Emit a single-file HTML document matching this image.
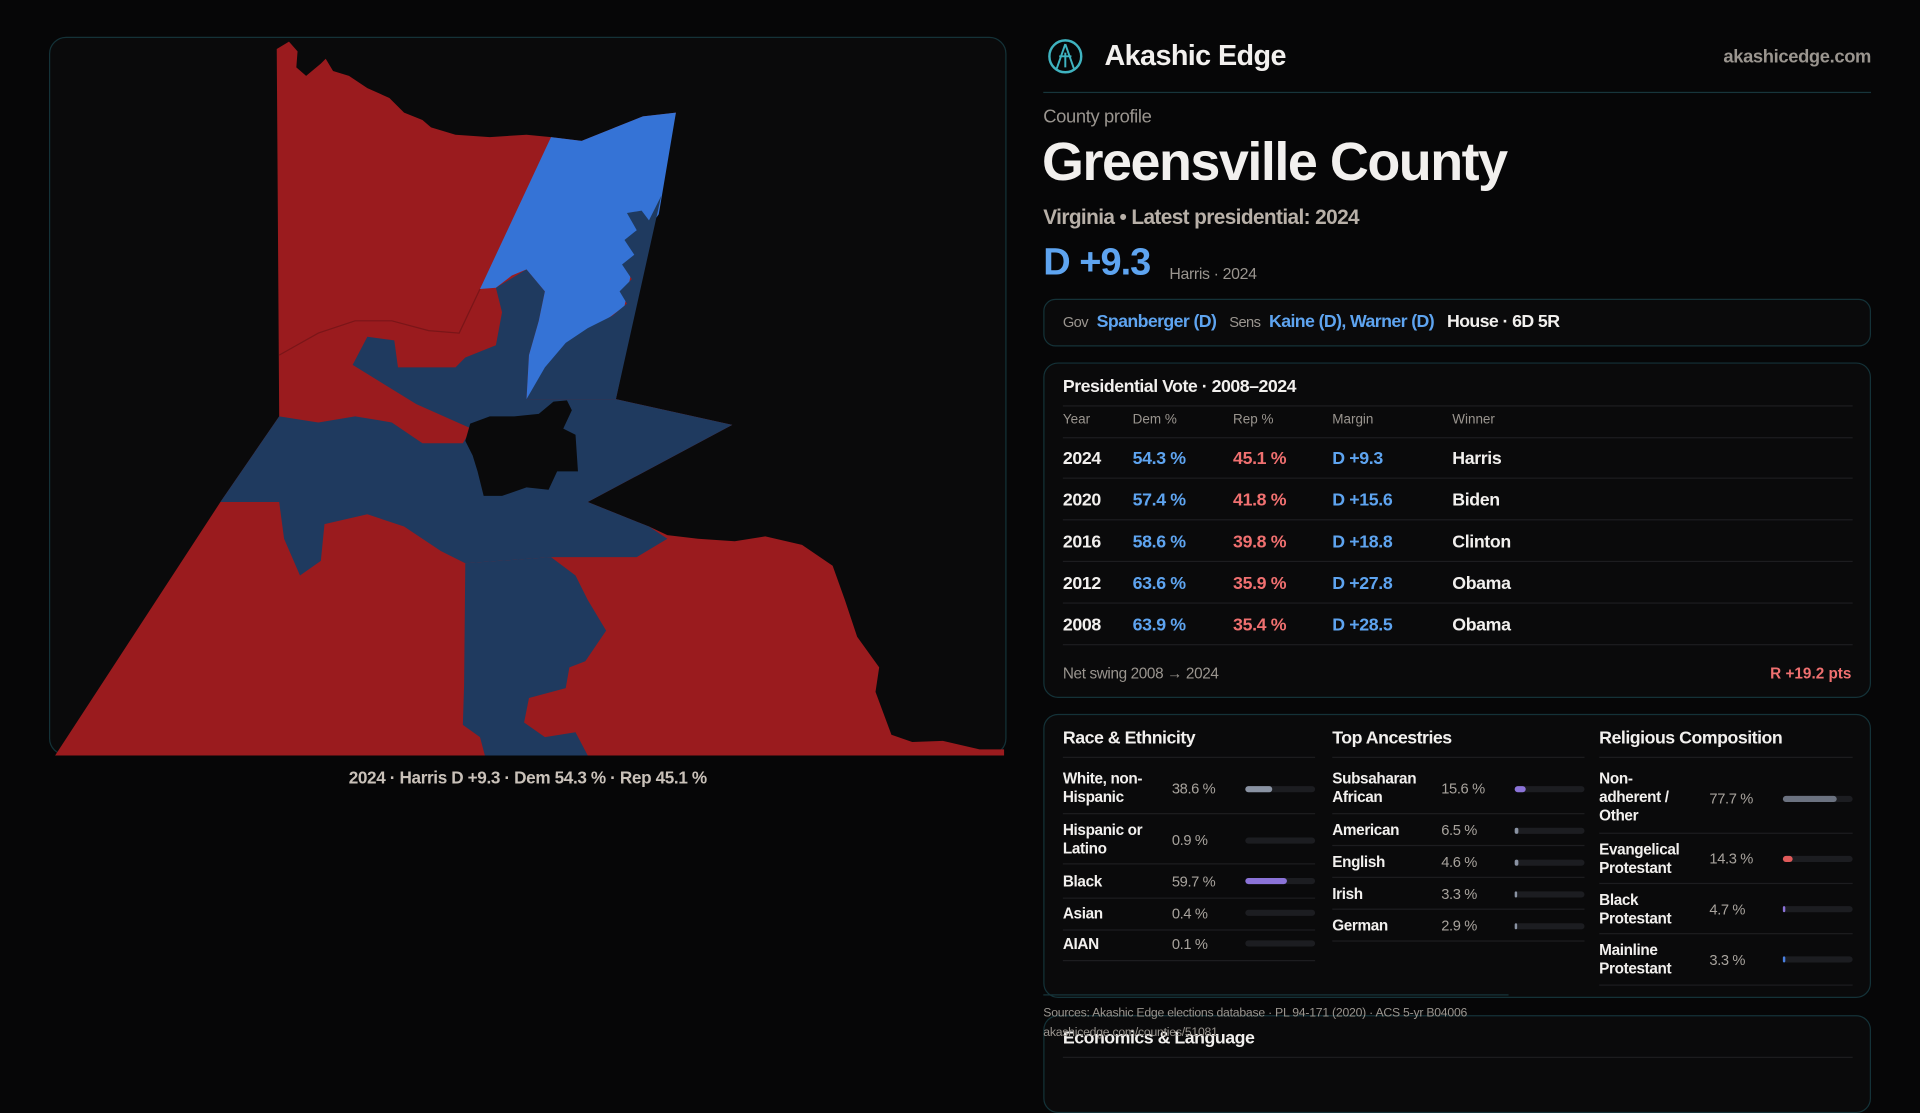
<!DOCTYPE html>
<html><head><meta charset="utf-8"><style>
*{margin:0;padding:0;box-sizing:border-box}
html,body{width:1920px;height:1080px;background:#060607;overflow:hidden}
body{font-family:"Liberation Sans",sans-serif;color:#f2f0ee}
#w{position:absolute;left:0;top:0;width:1568px;height:882px;transform:scale(1.22449);transform-origin:0 0}
.a{position:absolute;white-space:nowrap}
.box{position:absolute;border:1px solid #143238;border-radius:12px;background:#0a0a0b}
.g{color:#9a958f}
.b{color:#5ea4f0}
.r{color:#f07070}
.hl{position:absolute;height:1px;background:#1d1d20}
.bar{position:absolute;height:5px;border-radius:3px;background:#1c1d21;width:57px}
.bar i{display:block;height:5px;border-radius:3px}
.t13{font-size:12.5px;line-height:15px;font-weight:bold;letter-spacing:-.3px}
.v{font-size:12px;color:#a8a39d;letter-spacing:-.3px}
</style></head><body><div id="w">
<div class="box" style="left:40px;top:30px;width:782px;height:587px;border-radius:14px">
<svg width="782" height="587" viewBox="40 30 782 587" style="position:absolute;left:-1px;top:-1px">
<polygon fill="#9a1b1e" points="226,40 236,34 243,42 242,55 250,62 262,52 266,48 272,58 285,62 300,72 318,80 330,92 345,98 352,104 372,110 400,112 430,110 450,112 475,115 500,105 525,95 552,92 503,326 598,347 480,410 530,430 545,437 570,440 600,442 625,438 655,445 680,462 690,490 700,520 718,545 715,565 728,600 745,606 770,605 800,612 820,612 820,617 45,617 180,410 228,340"/>
<polygon fill="#1f3a5f" points="503,326 598,347 480,410 530,430 545,440 520,455 450,455 380,460 360,450 330,430 300,420 265,428 262,458 245,470 232,440 228,410 180,410 228,340 260,345 290,340 320,345 345,362 378,362 385,350 340,330 288,298 300,275 322,278 325,300 350,300 372,300 380,292 405,282 410,255 405,235 430,220 445,238 440,262 432,290 430,326"/>
<polygon fill="#1f3a5f" points="380,460 450,455 470,470 480,490 495,515 478,540 465,545 462,562 432,570 428,590 445,602 470,598 480,617 396,617 392,602 378,592 379,560"/>
<polygon fill="#3573d6" points="450,112 475,115 500,105 525,95 552,92 538,175 520,200 510,250 470,280 440,320 430,326 432,290 440,262 445,238 430,220 418,225 405,235 392,236"/>
<polygon fill="#1f3a5f" points="540,160 503,326 430,326 445,300 462,280 480,268 500,258 512,248 506,238 516,228 508,216 518,208 510,196 520,188 512,174 524,172 530,180"/>
<polygon fill="#0a0a0b" points="384,346 400,340 420,340 440,338 452,328 463,327 467,335 460,350 470,355 472,385 455,385 448,400 430,398 410,405 395,405 390,385 386,372 380,360"/>
<polyline fill="none" stroke="#7a1518" stroke-width="1" points="228,290 260,272 290,262 320,262 350,270 375,272 392,236"/>
</svg></div>
<div class="a" style="left:231px;top:627px;width:400px;text-align:center;font-size:14px;font-weight:bold;color:#c9c1b9;letter-spacing:-.3px">2024 · Harris D +9.3 · Dem 54.3 % · Rep 45.1 %</div>

<svg class="a" style="left:855px;top:31px" width="30" height="30" viewBox="0 0 30 30"><circle cx="15" cy="15" r="13" fill="none" stroke="#3fb3c0" stroke-width="2"/><path d="M15 5 L8 25 M15 5 L22 25 M10 15 H20 M15 12 V24" stroke="#3fb3c0" stroke-width="1.6" fill="none"/></svg>
<div class="a" style="left:902px;top:32px;font-size:23.5px;font-weight:bold;letter-spacing:-.5px">Akashic Edge</div>
<div class="a g" style="right:40px;top:38px;font-size:15px;font-weight:bold;letter-spacing:-.3px">akashicedge.com</div>
<div class="hl" style="left:852px;top:75px;width:676px;background:#17353b"></div>
<div class="a g" style="left:852px;top:87px;font-size:15px;letter-spacing:-.3px">County profile</div>
<div class="a" style="left:851px;top:108px;font-size:44px;font-weight:bold;letter-spacing:-1.2px">Greensville County</div>
<div class="a" style="left:852px;top:168px;font-size:17px;font-weight:bold;color:#b8b0a8;letter-spacing:-.5px">Virginia • Latest presidential: 2024</div>
<div class="a b" style="left:852px;top:196px;font-size:31px;font-weight:bold;letter-spacing:-.8px">D +9.3</div>
<div class="a g" style="left:955px;top:216px;font-size:13px;letter-spacing:-.3px">Harris · 2024</div>

<div class="box" style="left:852px;top:244px;width:676px;height:39px;border-radius:10px"></div>
<div class="a" style="left:868px;top:255px;font-size:14.5px;font-weight:bold;letter-spacing:-.5px"><span class="g" style="font-size:12px;font-weight:normal">Gov</span>&nbsp; <span class="b">Spanberger (D)</span>&nbsp;&nbsp; <span class="g" style="font-size:12px;font-weight:normal">Sens</span>&nbsp; <span class="b">Kaine (D), Warner (D)</span>&nbsp;&nbsp; House · 6D 5R</div>

<div class="box" style="left:852px;top:296px;width:676px;height:274px"></div>
<div class="a" style="left:868px;top:308px;font-size:14.5px;font-weight:bold;letter-spacing:-.4px">Presidential Vote · 2008–2024</div>
<div class="hl" style="left:868px;top:331px;width:645px"></div>
<div class="a g" style="left:868px;top:337px;font-size:11px">Year</div>
<div class="a g" style="left:925px;top:337px;font-size:11px">Dem %</div>
<div class="a g" style="left:1007px;top:337px;font-size:11px">Rep %</div>
<div class="a g" style="left:1088px;top:337px;font-size:11px">Margin</div>
<div class="a g" style="left:1186px;top:337px;font-size:11px">Winner</div>
<div class="hl" style="left:868px;top:357px;width:645px"></div>
<div style="position:absolute;left:868px;top:357px;width:645px;font-size:14.5px;font-weight:bold;letter-spacing:-.3px">
<div style="position:relative;height:34px;border-bottom:1px solid #1d1d20"><span class="a" style="left:0;top:10px">2024</span><span class="a b" style="left:57px;top:10px">54.3 %</span><span class="a r" style="left:139px;top:10px">45.1 %</span><span class="a b" style="left:220px;top:10px">D +9.3</span><span class="a" style="left:318px;top:10px">Harris</span></div>
<div style="position:relative;height:34px;border-bottom:1px solid #1d1d20"><span class="a" style="left:0;top:10px">2020</span><span class="a b" style="left:57px;top:10px">57.4 %</span><span class="a r" style="left:139px;top:10px">41.8 %</span><span class="a b" style="left:220px;top:10px">D +15.6</span><span class="a" style="left:318px;top:10px">Biden</span></div>
<div style="position:relative;height:34px;border-bottom:1px solid #1d1d20"><span class="a" style="left:0;top:10px">2016</span><span class="a b" style="left:57px;top:10px">58.6 %</span><span class="a r" style="left:139px;top:10px">39.8 %</span><span class="a b" style="left:220px;top:10px">D +18.8</span><span class="a" style="left:318px;top:10px">Clinton</span></div>
<div style="position:relative;height:34px;border-bottom:1px solid #1d1d20"><span class="a" style="left:0;top:10px">2012</span><span class="a b" style="left:57px;top:10px">63.6 %</span><span class="a r" style="left:139px;top:10px">35.9 %</span><span class="a b" style="left:220px;top:10px">D +27.8</span><span class="a" style="left:318px;top:10px">Obama</span></div>
<div style="position:relative;height:34px;border-bottom:1px solid #1d1d20"><span class="a" style="left:0;top:10px">2008</span><span class="a b" style="left:57px;top:10px">63.9 %</span><span class="a r" style="left:139px;top:10px">35.4 %</span><span class="a b" style="left:220px;top:10px">D +28.5</span><span class="a" style="left:318px;top:10px">Obama</span></div>
</div>
<div class="a g" style="left:868px;top:543px;font-size:12.5px;letter-spacing:-.3px">Net swing 2008 → 2024</div>
<div class="a r" style="right:56px;top:543px;font-size:12.5px;font-weight:bold">R +19.2 pts</div>

<div class="box" style="left:852px;top:583px;width:676px;height:232px"></div>
<div class="a" style="left:868px;top:595px;font-size:14.5px;font-weight:bold;letter-spacing:-.4px">Race &amp; Ethnicity</div>
<div class="a" style="left:1088px;top:595px;font-size:14.5px;font-weight:bold;letter-spacing:-.4px">Top Ancestries</div>
<div class="a" style="left:1306px;top:595px;font-size:14.5px;font-weight:bold;letter-spacing:-.4px">Religious Composition</div>
<div class="hl" style="left:868px;top:618px;width:206px"></div>
<div class="hl" style="left:1088px;top:618px;width:206px"></div>
<div class="hl" style="left:1306px;top:618px;width:207px"></div>

<div class="a t13" style="left:868px;top:629px">White, non-<br>Hispanic</div><div class="a v" style="left:957px;top:637px">38.6 %</div><div class="bar" style="left:1017px;top:642px"><i style="width:39%;background:#8a93a3"></i></div><div class="hl" style="left:868px;top:664px;width:206px"></div>
<div class="a t13" style="left:868px;top:671px">Hispanic or<br>Latino</div><div class="a v" style="left:957px;top:679px">0.9 %</div><div class="bar" style="left:1017px;top:684px"></div><div class="hl" style="left:868px;top:705px;width:206px"></div>
<div class="a t13" style="left:868px;top:713px">Black</div><div class="a v" style="left:957px;top:713px">59.7 %</div><div class="bar" style="left:1017px;top:717px"><i style="width:60%;background:#8b73d8"></i></div><div class="hl" style="left:868px;top:733px;width:206px"></div>
<div class="a t13" style="left:868px;top:739px">Asian</div><div class="a v" style="left:957px;top:739px">0.4 %</div><div class="bar" style="left:1017px;top:743px"></div><div class="hl" style="left:868px;top:759px;width:206px"></div>
<div class="a t13" style="left:868px;top:764px">AIAN</div><div class="a v" style="left:957px;top:764px">0.1 %</div><div class="bar" style="left:1017px;top:768px"></div><div class="hl" style="left:868px;top:784px;width:206px"></div>

<div class="a t13" style="left:1088px;top:629px">Subsaharan<br>African</div><div class="a v" style="left:1177px;top:637px">15.6 %</div><div class="bar" style="left:1237px;top:642px"><i style="width:16%;background:#8b73d8"></i></div><div class="hl" style="left:1088px;top:664px;width:206px"></div>
<div class="a t13" style="left:1088px;top:671px">American</div><div class="a v" style="left:1177px;top:671px">6.5 %</div><div class="bar" style="left:1237px;top:676px"><i style="width:6%;background:#8a93a3"></i></div><div class="hl" style="left:1088px;top:690px;width:206px"></div>
<div class="a t13" style="left:1088px;top:697px">English</div><div class="a v" style="left:1177px;top:697px">4.6 %</div><div class="bar" style="left:1237px;top:702px"><i style="width:5%;background:#8a93a3"></i></div><div class="hl" style="left:1088px;top:716px;width:206px"></div>
<div class="a t13" style="left:1088px;top:723px">Irish</div><div class="a v" style="left:1177px;top:723px">3.3 %</div><div class="bar" style="left:1237px;top:728px"><i style="width:4%;background:#8a93a3"></i></div><div class="hl" style="left:1088px;top:742px;width:206px"></div>
<div class="a t13" style="left:1088px;top:749px">German</div><div class="a v" style="left:1177px;top:749px">2.9 %</div><div class="bar" style="left:1237px;top:754px"><i style="width:3%;background:#8a93a3"></i></div><div class="hl" style="left:1088px;top:768px;width:206px"></div>

<div class="a t13" style="left:1306px;top:629px">Non-<br>adherent /<br>Other</div><div class="a v" style="left:1396px;top:645px">77.7 %</div><div class="bar" style="left:1456px;top:650px"><i style="width:78%;background:#6b7280"></i></div><div class="hl" style="left:1306px;top:680px;width:207px"></div>
<div class="a t13" style="left:1306px;top:687px">Evangelical<br>Protestant</div><div class="a v" style="left:1396px;top:694px">14.3 %</div><div class="bar" style="left:1456px;top:699px"><i style="width:14%;background:#e05a5a"></i></div><div class="hl" style="left:1306px;top:721px;width:207px"></div>
<div class="a t13" style="left:1306px;top:728px">Black<br>Protestant</div><div class="a v" style="left:1396px;top:736px">4.7 %</div><div class="bar" style="left:1456px;top:740px"><i style="width:4%;background:#8b73d8"></i></div><div class="hl" style="left:1306px;top:762px;width:207px"></div>
<div class="a t13" style="left:1306px;top:769px">Mainline<br>Protestant</div><div class="a v" style="left:1396px;top:777px">3.3 %</div><div class="bar" style="left:1456px;top:781px"><i style="width:3%;background:#4a80e0"></i></div><div class="hl" style="left:1306px;top:804px;width:207px"></div>

<div class="box" style="left:852px;top:829px;width:676px;height:80px"></div>
<div class="hl" style="left:852px;top:812px;width:380px;background:#17353b"></div>
<div class="a" style="left:868px;top:840px;font-size:14.5px;font-weight:bold;letter-spacing:-.4px">Economics &amp; Language</div>
<div class="hl" style="left:868px;top:863px;width:645px"></div>
<div class="a g" style="left:852px;top:822px;font-size:10px;letter-spacing:-.2px">Sources: Akashic Edge elections database · PL 94-171 (2020) · ACS 5-yr B04006</div>
<div class="a g" style="left:852px;top:838px;font-size:10px;letter-spacing:-.2px">akashicedge.com/counties/51081</div>
</div></body></html>
